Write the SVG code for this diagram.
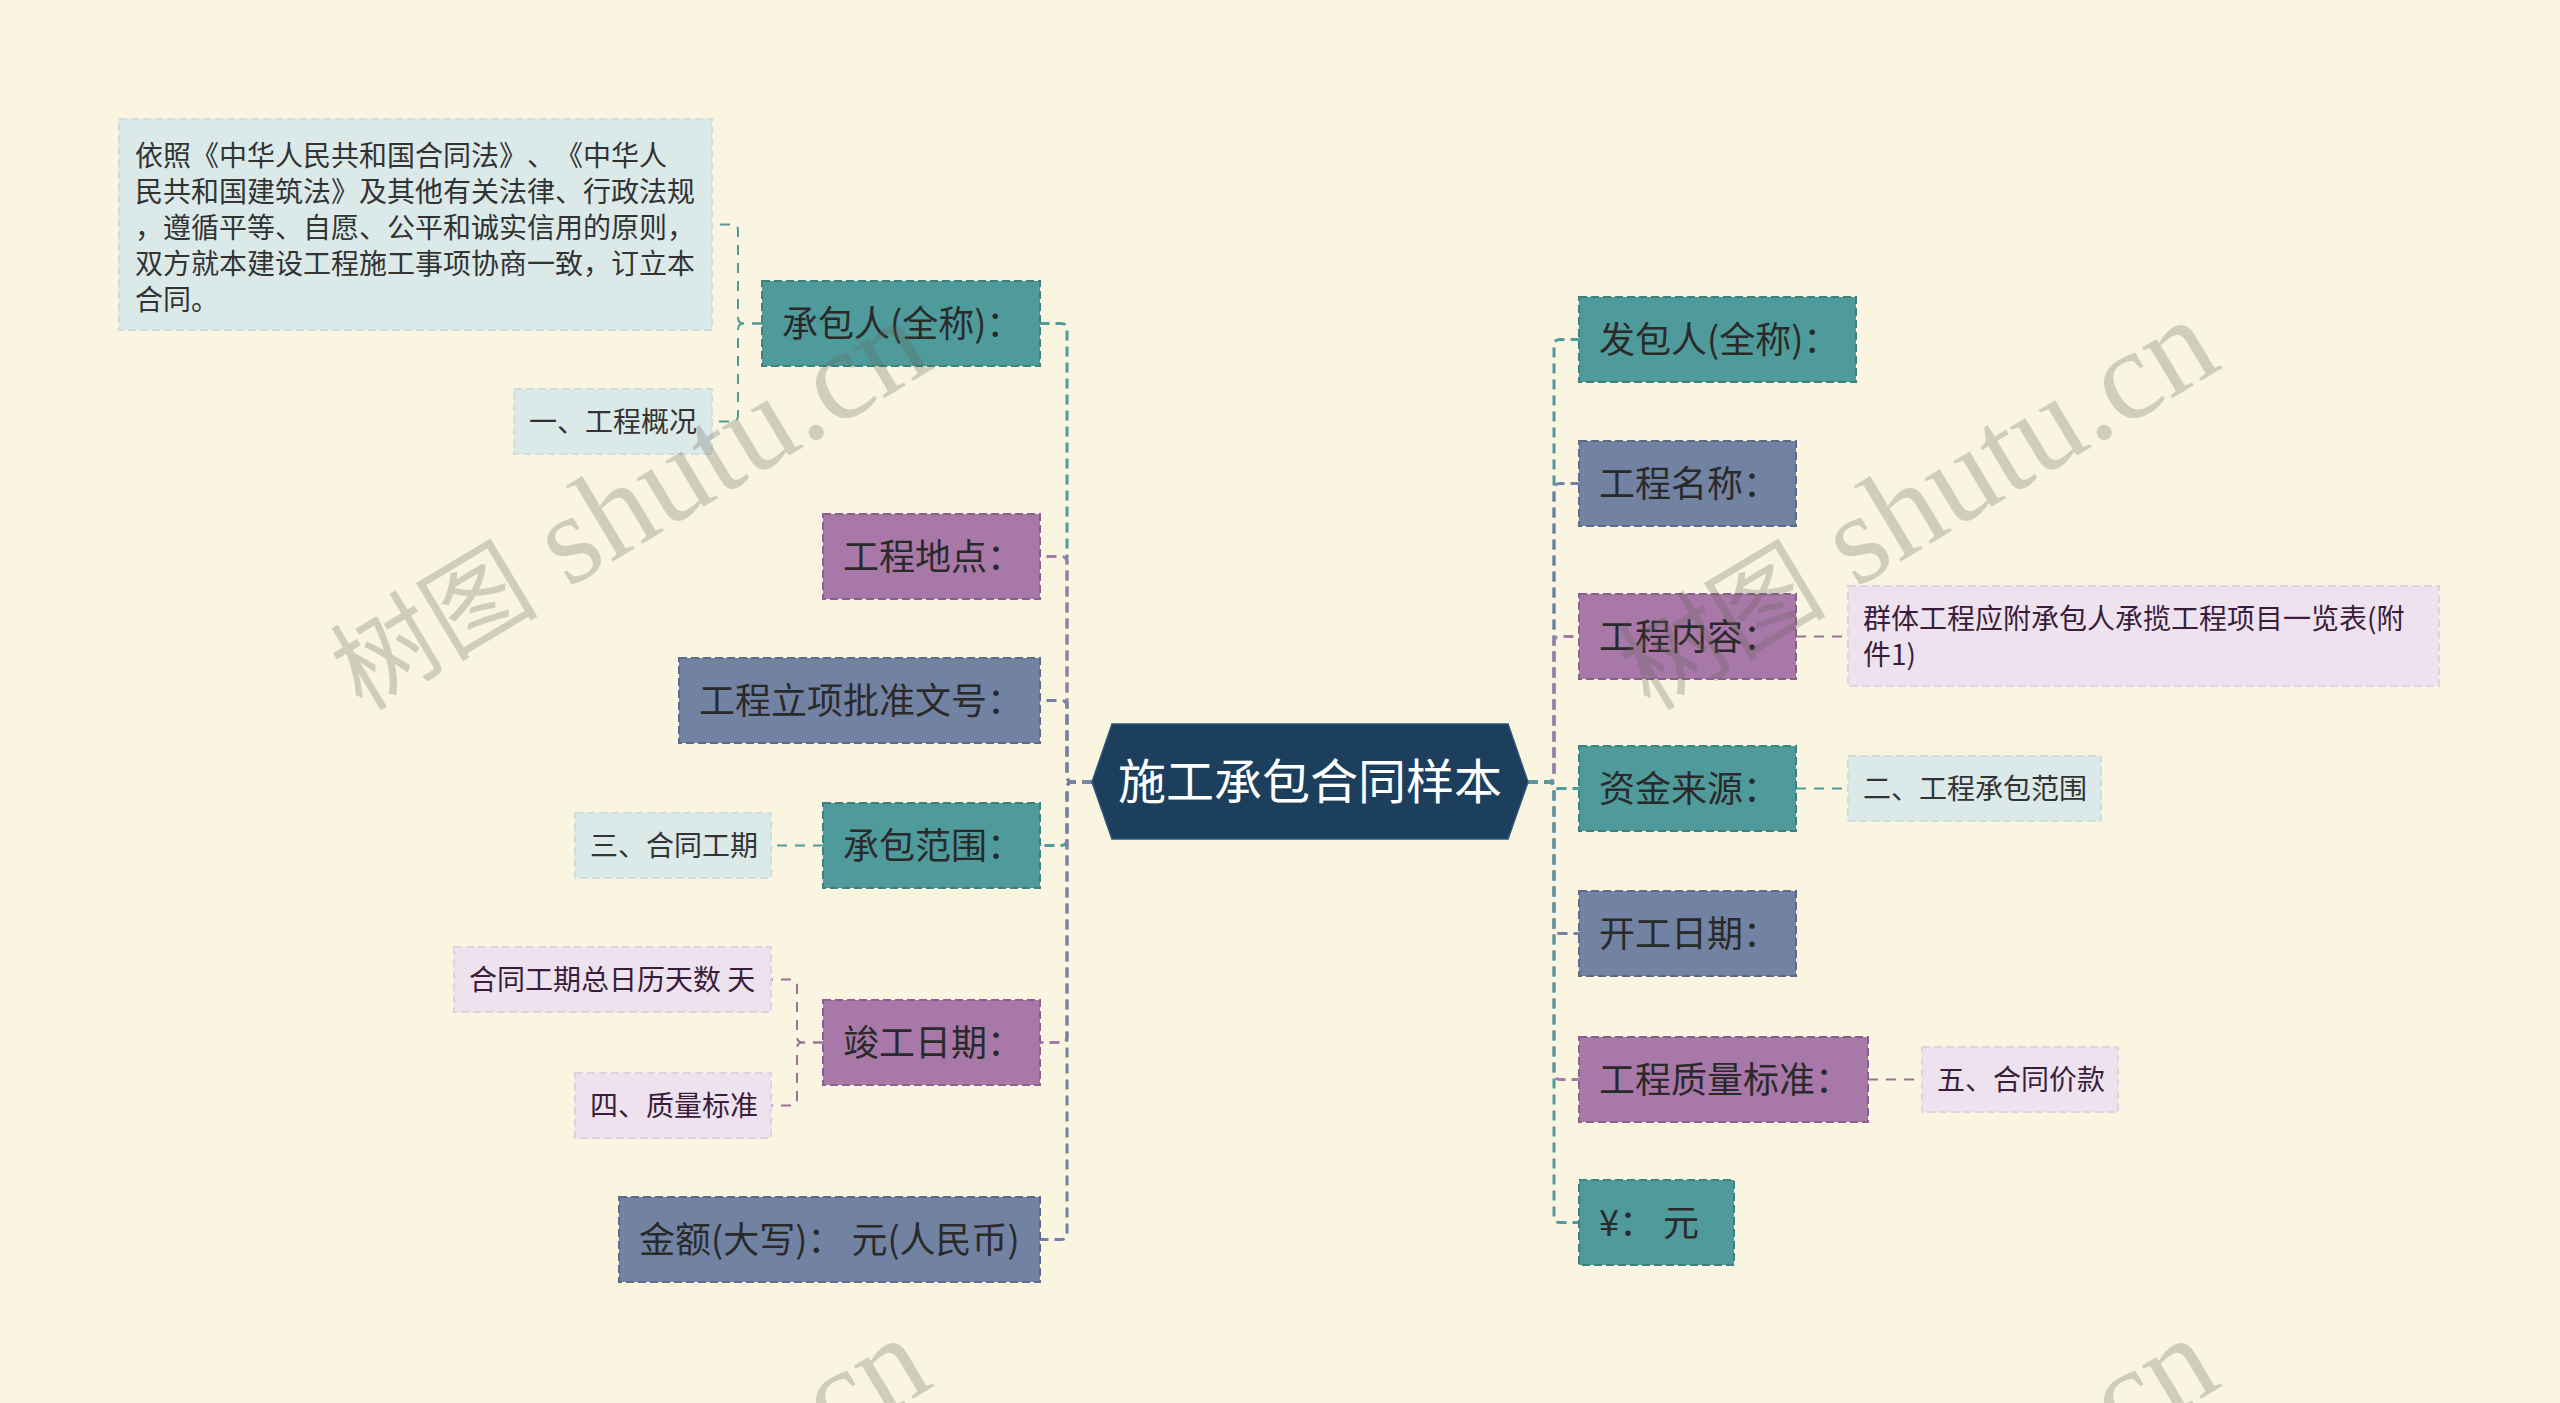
<svg xmlns="http://www.w3.org/2000/svg" width="2560" height="1403" viewBox="0 0 2560 1403">
<style>
.bg{fill:#faf5e0}
.n rect{stroke-width:2;stroke-dasharray:8 4}
.teal rect{fill:#4f9b9b;stroke:#3f7f80}
.slate rect{fill:#7282a3;stroke:#5e6b88}
.purple rect{fill:#a878a8;stroke:#8c608c}
.lb rect{fill:#dbeae8;stroke:#cddedc}
.lp rect{fill:#ede2ee;stroke:#e0d2e1}
.n text{font-family:"Noto Sans CJK SC","Noto Sans",sans-serif;text-spacing-trim:space-all}
.main text{font-size:36px;fill:#2a2a2a}
.lb text{font-size:28px;fill:#333333}
.lp text{font-size:28px;fill:#3a1d3a}
.root text{font-family:"Noto Sans CJK SC","Noto Sans",sans-serif;font-size:48px;fill:#ffffff}
.c path{fill:none;stroke-width:3;stroke-dasharray:10 6}
.c path.l{stroke-width:2;stroke-dasharray:10 8}
.c .ct{stroke:#4f9b9b}
.c .cs{stroke:#7282a3}
.c .cp{stroke:#a878a8}
.c .lt{stroke:#4f9b9b}
.c .lpp{stroke:#9a7298}
.wm{fill:#64645a;fill-opacity:0.27}
.wm .cj{font-family:"Noto Sans CJK SC",serif;font-size:104px}
.wm .la{font-family:"Liberation Serif",serif;font-size:128px}
</style>
<rect class="bg" x="0" y="0" width="2560" height="1403"/>

<g id="connectors" class="c">
  <path class="ct" d="M1092 782 H1073 Q1067 782 1067 776 V329.5 Q1067 323.5 1061 323.5 H1040"/>
  <path class="cp" d="M1092 782 H1073 Q1067 782 1067 776 V562.5 Q1067 556.5 1061 556.5 H1040"/>
  <path class="cs" d="M1092 782 H1073 Q1067 782 1067 776 V706.5 Q1067 700.5 1061 700.5 H1040"/>
  <path class="ct" d="M1092 782 H1073 Q1067 782 1067 788 V839.5 Q1067 845.5 1061 845.5 H1040"/>
  <path class="cp" d="M1092 782 H1073 Q1067 782 1067 788 V1036.5 Q1067 1042.5 1061 1042.5 H1040"/>
  <path class="cs" d="M1092 782 H1073 Q1067 782 1067 788 V1233.5 Q1067 1239.5 1061 1239.5 H1040"/>
  <path class="ct" d="M1528 782 H1548 Q1554 782 1554 776 V345.5 Q1554 339.5 1560 339.5 H1579"/>
  <path class="cs" d="M1528 782 H1548 Q1554 782 1554 776 V489.5 Q1554 483.5 1560 483.5 H1579"/>
  <path class="cp" d="M1528 782 H1548 Q1554 782 1554 776 V642.5 Q1554 636.5 1560 636.5 H1579"/>
  <path class="ct" d="M1528 782 H1550 Q1554 782 1554 785 Q1554 788.5 1558 788.5 H1579"/>
  <path class="cs" d="M1528 782 H1548 Q1554 782 1554 788 V927.5 Q1554 933.5 1560 933.5 H1579"/>
  <path class="cp" d="M1528 782 H1548 Q1554 782 1554 788 V1073.5 Q1554 1079.5 1560 1079.5 H1579"/>
  <path class="ct" d="M1528 782 H1548 Q1554 782 1554 788 V1216.5 Q1554 1222.5 1560 1222.5 H1579"/>
  <path class="l lt" d="M762 323.5 H744 Q738 323.5 738 317.5 V230.5 Q738 224.5 732 224.5 H712"/>
  <path class="l lt" d="M762 323.5 H744 Q738 323.5 738 329.5 V415.5 Q738 421.5 732 421.5 H712"/>
  <path class="l lt" d="M823 845.5 H771"/>
  <path class="l lpp" d="M823 1042.5 H803 Q797 1042.5 797 1036.5 V985.5 Q797 979.5 791 979.5 H771"/>
  <path class="l lpp" d="M823 1042.5 H803 Q797 1042.5 797 1048.5 V1099.5 Q797 1105.5 791 1105.5 H771"/>
  <path class="l lpp" d="M1796 636.5 H1848"/>
  <path class="l lt" d="M1796 788.5 H1848"/>
  <path class="l lpp" d="M1868 1079.5 H1922"/>
</g>

<g id="root" class="root">
  <polygon points="1092,782 1112,724 1508,724 1528,782 1508,839 1112,839" fill="#1c3f5e" stroke="#2d5575" stroke-width="1.5"/>
  <text x="1310" y="799" text-anchor="middle">施工承包合同样本</text>
</g>

<g id="n-chengbaoren" class="n main teal"><rect x="762" y="281" width="278" height="85"/><text x="782" y="337">承包人(全称)：</text></g>
<g id="n-gongchengdidian" class="n main purple"><rect x="823" y="514" width="217" height="85"/><text x="843" y="570">工程地点：</text></g>
<g id="n-lixiang" class="n main slate"><rect x="679" y="658" width="361" height="85"/><text x="699" y="714">工程立项批准文号：</text></g>
<g id="n-chengbaofanwei" class="n main teal"><rect x="823" y="803" width="217" height="85"/><text x="843" y="859">承包范围：</text></g>
<g id="n-jungong" class="n main purple"><rect x="823" y="1000" width="217" height="85"/><text x="843" y="1056">竣工日期：</text></g>
<g id="n-jine" class="n main slate"><rect x="619" y="1197" width="421" height="85"/><text x="639" y="1253">金额(大写)： 元(人民币)</text></g>

<g id="n-fabaoren" class="n main teal"><rect x="1579" y="297" width="277" height="85"/><text x="1599" y="353">发包人(全称)：</text></g>
<g id="n-mingcheng" class="n main slate"><rect x="1579" y="441" width="217" height="85"/><text x="1599" y="497">工程名称：</text></g>
<g id="n-neirong" class="n main purple"><rect x="1579" y="594" width="217" height="85"/><text x="1599" y="650">工程内容：</text></g>
<g id="n-zijin" class="n main teal"><rect x="1579" y="746" width="217" height="85"/><text x="1599" y="802">资金来源：</text></g>
<g id="n-kaigong" class="n main slate"><rect x="1579" y="891" width="217" height="85"/><text x="1599" y="947">开工日期：</text></g>
<g id="n-zhiliang" class="n main purple"><rect x="1579" y="1037" width="289" height="85"/><text x="1599" y="1093">工程质量标准：</text></g>
<g id="n-yuan" class="n main teal"><rect x="1579" y="1180" width="155" height="85"/><text x="1599" y="1236">¥： 元</text></g>

<g id="l-yizhao" class="n lb"><rect x="119" y="119" width="593" height="211"/>
  <text x="135" y="166">依照《中华人民共和国合同法》、《中华人</text>
  <text x="135" y="202">民共和国建筑法》及其他有关法律、行政法规</text>
  <text x="135" y="238">，遵循平等、自愿、公平和诚实信用的原则，</text>
  <text x="135" y="274">双方就本建设工程施工事项协商一致，订立本</text>
  <text x="135" y="310">合同。</text>
</g>
<g id="l-gaikuang" class="n lb"><rect x="514" y="389" width="198" height="65"/><text x="529" y="432">一、工程概况</text></g>
<g id="l-hetonggongqi" class="n lb"><rect x="575" y="813" width="196" height="65"/><text x="590" y="856">三、合同工期</text></g>
<g id="l-tianshu" class="n lp"><rect x="454" y="947" width="317" height="65"/><text x="469" y="990">合同工期总日历天数 天</text></g>
<g id="l-zhiliangbiaozhun" class="n lp"><rect x="575" y="1073" width="196" height="65"/><text x="590" y="1116">四、质量标准</text></g>
<g id="l-qunti" class="n lp"><rect x="1848" y="586" width="591" height="100"/>
  <text x="1863" y="629">群体工程应附承包人承揽工程项目一览表(附</text>
  <text x="1863" y="665">件1)</text>
</g>
<g id="l-fanwei" class="n lb"><rect x="1848" y="756" width="253" height="65"/><text x="1863" y="799">二、工程承包范围</text></g>
<g id="l-jiakuan" class="n lp"><rect x="1922" y="1047" width="196" height="65"/><text x="1937" y="1090">五、合同价款</text></g>

<g class="wm">
  <text transform="translate(362,712) rotate(-31)"><tspan class="cj">树图</tspan><tspan class="la"> shutu.cn</tspan></text>
  <text transform="translate(1650,712) rotate(-31)"><tspan class="cj">树图</tspan><tspan class="la"> shutu.cn</tspan></text>
  <text transform="translate(362,1730) rotate(-31)"><tspan class="cj">树图</tspan><tspan class="la"> shutu.cn</tspan></text>
  <text transform="translate(1650,1730) rotate(-31)"><tspan class="cj">树图</tspan><tspan class="la"> shutu.cn</tspan></text>
</g>
</svg>
